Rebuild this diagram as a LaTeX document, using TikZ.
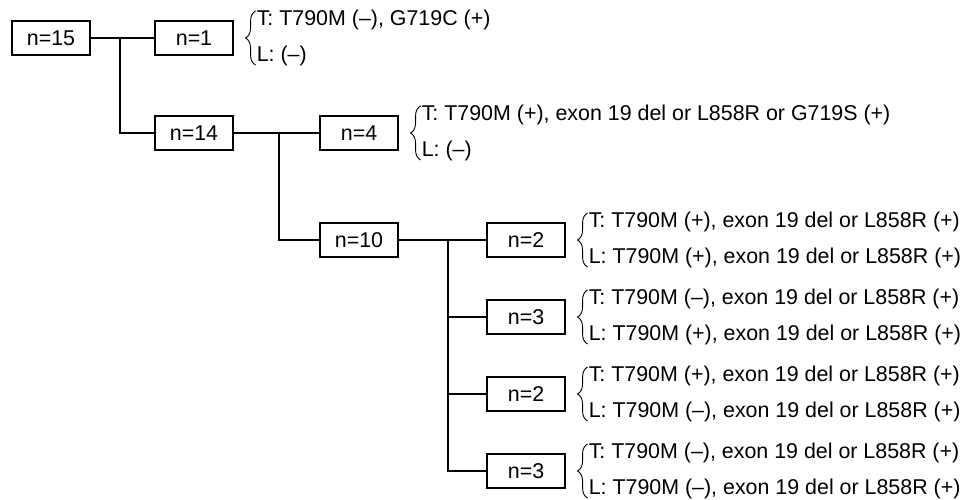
\documentclass[tikz,border=0pt]{standalone}
\usepackage{fontspec}
\setmainfont{Liberation Sans}
\usetikzlibrary{decorations.pathreplacing}
\tikzset{
  box/.style={draw, line width=1.1pt, minimum width=78pt, minimum height=34pt, inner sep=0pt, font=\fontsize{21.4}{24}\selectfont},
  conn/.style={line width=1.1pt},
  brc/.style={line width=0.9pt, decorate, decoration={brace, amplitude=10pt, aspect=0.5}},
  txt/.style={inner sep=0pt, anchor=west, font=\fontsize{21.4}{24}\selectfont}
}
\newcommand\leafinfo[3]{%
  \coordinate (#1top) at ([xshift=22pt,yshift=27pt]#1.east);
  \coordinate (#1bot) at ([xshift=22pt,yshift=-27pt]#1.east);
  \draw[brc] (#1bot) -- (#1top);
  \node[txt] (#1T) at ([xshift=23pt,yshift=18pt]#1.east) {#2};
  \node[txt] (#1L) at ([xshift=23pt,yshift=-18pt]#1.east) {#3};
}
\begin{document}
\begin{tikzpicture}[x=1pt,y=-1pt]
\useasboundingbox (0,0) rectangle (961,499);
\node[box] (b15) at (51,38) {n=15};
\node[box] (b1) at (194,38) {n=1};
\node[box] (b14) at (194,133) {n=14};
\node[box] (b4) at (359,133) {n=4};
\node[box] (b10) at (359,240) {n=10};
\node[box] (l1) at (526,240) {n=2};
\node[box] (l2) at (526,317) {n=3};
\node[box] (l3) at (526,394) {n=2};
\node[box] (l4) at (526,471) {n=3};
\coordinate (j1) at (120,38);
\coordinate (j2) at (279,133);
\coordinate (j3) at (448,240);
\draw[conn] (b15.east) -- (b1.west);
\draw[conn] (j1) |- (b14.west);
\draw[conn] (b14.east) -- (b4.west);
\draw[conn] (j2) |- (b10.west);
\draw[conn] (b10.east) -- (l1.west);
\draw[conn] (j3) |- (l2.west);
\draw[conn] (j3) |- (l3.west);
\draw[conn] (j3) |- (l4.west);
\leafinfo{b1}{T: T790M (–), G719C (+)}{L: (–)}
\leafinfo{b4}{T: T790M (+), exon 19 del or L858R or G719S (+)}{L: (–)}
\leafinfo{l1}{T: T790M (+), exon 19 del or L858R (+)}{L: T790M (+), exon 19 del or L858R (+)}
\leafinfo{l2}{T: T790M (–), exon 19 del or L858R (+)}{L: T790M (+), exon 19 del or L858R (+)}
\leafinfo{l3}{T: T790M (+), exon 19 del or L858R (+)}{L: T790M (–), exon 19 del or L858R (+)}
\leafinfo{l4}{T: T790M (–), exon 19 del or L858R (+)}{L: T790M (–), exon 19 del or L858R (+)}
\end{tikzpicture}
\end{document}
